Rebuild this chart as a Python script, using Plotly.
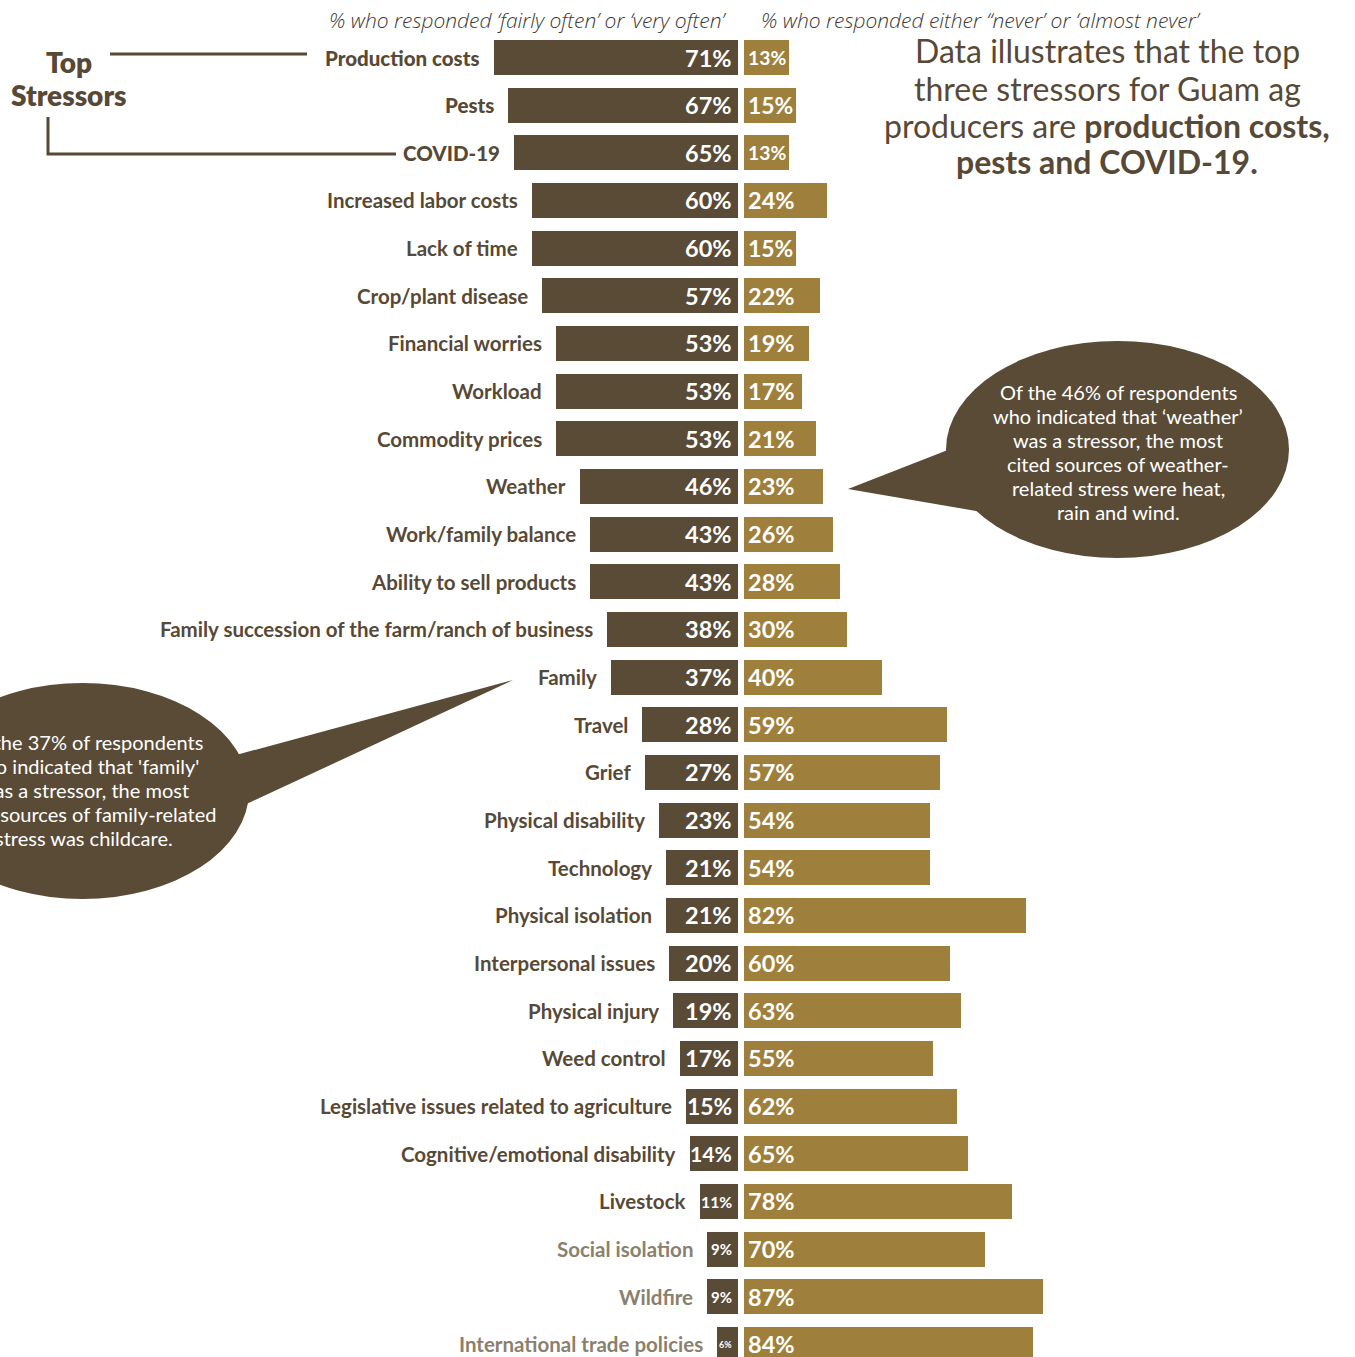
import plotly.graph_objects as go

# Stressors, ordered from most to least frequently reported
categories = [
    "Production costs", "Pests", "COVID-19", "Increased labor costs",
    "Lack of time", "Crop/plant disease", "Financial worries", "Workload",
    "Commodity prices", "Weather", "Work/family balance",
    "Ability to sell products",
    "Family succession of the farm/ranch of business", "Family", "Travel",
    "Grief", "Physical disability", "Technology", "Physical isolation",
    "Interpersonal issues", "Physical injury", "Weed control",
    "Legislative issues related to agriculture",
    "Cognitive/emotional disability", "Livestock", "Social isolation",
    "Wildfire", "International trade policies",
]
# % who responded 'fairly often' or 'very often'
often_pct = [71, 67, 65, 60, 60, 57, 53, 53, 53, 46, 43, 43, 38, 37, 28, 27,
             23, 21, 21, 20, 19, 17, 15, 14, 11, 9, 9, 6]
# % who responded 'never' or 'almost never'
never_pct = [13, 15, 13, 24, 15, 22, 19, 17, 21, 23, 26, 28, 30, 40, 59, 57,
             54, 54, 82, 60, 63, 55, 62, 65, 78, 70, 87, 84]
top_three = categories[:3]
muted_labels = ["Social isolation", "Wildfire", "International trade policies"]

weather_note = [
    "Of the 46% of respondents", "who indicated that ‘weather’",
    "was a stressor, the most", "cited sources of weather-",
    "related stress were heat,", "rain and wind.",
]
family_note = [
    "Of the 37% of respondents", "who indicated that 'family'",
    "was a stressor, the most", "cited sources of family-related",
    "stress was childcare.",
]
headline = [
    "Data illustrates that the top",
    "three stressors for Guam ag",
    "producers are <b>production costs,</b>",
    "<b>pests and COVID-19.</b>",
]

# ---- styling -------------------------------------------------------------
W, H = 1355, 1357
DARK = "#5a4b36"
GOLD = "#9e803c"
INK = "#574936"
MUTED = "#8b7f6d"
FONT = "Lato"

PX_PER_PCT = 3.44          # horizontal scale (pixels per percentage point)
CENTER_PX = 741            # pixel column between the two bar groups
HALF_GAP = 3 / PX_PER_PCT  # half of the gap between the two bar groups
ROW0_PX = 57.5             # centre of the first row
ROW_PX = 47.66             # row pitch
BAR_PX = 35                # bar thickness

x_range = [-CENTER_PX / PX_PER_PCT, (W - CENTER_PX) / PX_PER_PCT]
y_range = [(H - ROW0_PX) / ROW_PX, -ROW0_PX / ROW_PX]
rows = list(range(len(categories)))


def px(x):
    return x / W


def py(y):
    return 1 - y / H


def value_font_size(v):
    """Shrink the in-bar label so it fills, but fits inside, short bars."""
    bar_px = v * PX_PER_PCT
    em_width = 0.35 * len(str(v)) + 1.25
    return max(9, min(23.5, (bar_px - 7) / em_width))


fig = go.Figure()
fig.add_trace(go.Bar(
    y=rows, x=[-v for v in often_pct], base=-HALF_GAP, orientation="h",
    marker=dict(color=DARK, line=dict(width=0)), width=BAR_PX / ROW_PX,
    hoverinfo="skip", showlegend=False,
))
fig.add_trace(go.Bar(
    y=rows, x=never_pct, base=HALF_GAP, orientation="h",
    marker=dict(color=GOLD, line=dict(width=0)), width=BAR_PX / ROW_PX,
    hoverinfo="skip", showlegend=False,
))

annotations = []
for i, (cat, lo, hi) in enumerate(zip(categories, often_pct, never_pct)):
    color = MUTED if cat in muted_labels else INK
    weight = 900 if cat in top_three else 700
    annotations.append(dict(
        x=-HALF_GAP - lo, y=i, xref="x", yref="y", text=cat,
        xanchor="right", yanchor="middle", xshift=-12, showarrow=False,
        font=dict(family=FONT, size=20.5, color=color, weight=weight),
    ))
    annotations.append(dict(
        x=-HALF_GAP, y=i, xref="x", yref="y", text=f"{lo}%",
        xanchor="right", yanchor="middle", xshift=-4, showarrow=False,
        font=dict(family=FONT, size=value_font_size(lo), color="white",
                  weight=700),
    ))
    annotations.append(dict(
        x=HALF_GAP, y=i, xref="x", yref="y", text=f"{hi}%",
        xanchor="left", yanchor="middle", xshift=2, showarrow=False,
        font=dict(family=FONT, size=value_font_size(hi), color="white",
                  weight=700),
    ))

# column headers
header_font = dict(family="Open Sans", size=21, color="#3a3834",
                   style="italic", weight=300)
annotations.append(dict(
    x=px(728), y=py(20), xref="paper", yref="paper",
    text="% who responded ‘fairly often’ or ‘very often’",
    xanchor="right", yanchor="middle", showarrow=False, font=header_font,
))
annotations.append(dict(
    x=px(759), y=py(20), xref="paper", yref="paper",
    text="% who responded either “never’ or ‘almost never’",
    xanchor="left", yanchor="middle", showarrow=False, font=header_font,
))

# "Top Stressors" call-out
for text, y in [("Top", 62), ("Stressors", 95)]:
    annotations.append(dict(
        x=px(69), y=py(y), xref="paper", yref="paper", text=text,
        xanchor="center", yanchor="middle", showarrow=False,
        font=dict(family=FONT, size=28, color=INK, weight=800),
    ))

# headline statement, one annotation per line
for k, text in enumerate(headline):
    annotations.append(dict(
        x=px(1107), y=py(51 + 37 * k), xref="paper", yref="paper", text=text,
        xanchor="center", yanchor="middle", showarrow=False,
        font=dict(family=FONT, size=32, color=INK, weight=400),
    ))

# speech-bubble notes
bubble_font = dict(family=FONT, size=20, color="white", weight=400)
for k, text in enumerate(weather_note):
    annotations.append(dict(
        x=px(1118), y=py(392 + 24 * k), xref="paper", yref="paper",
        text=text, xanchor="center", yanchor="middle", showarrow=False,
        font=bubble_font,
    ))
for k, text in enumerate(family_note):
    annotations.append(dict(
        x=px(84), y=py(742 + 24 * k), xref="paper", yref="paper",
        text=text, xanchor="center", yanchor="middle", showarrow=False,
        font=bubble_font,
    ))


def path(points):
    return "M " + " L ".join(f"{px(x)} {py(y)}" for x, y in points) + " Z"


shapes = [
    # bracket lines for the top three stressors
    dict(type="line", xref="paper", yref="paper", x0=px(110), y0=py(54),
         x1=px(307), y1=py(54), line=dict(color=INK, width=3)),
    dict(type="path", xref="paper", yref="paper",
         path="M {} {} L {} {} L {} {}".format(px(48), py(117), px(48),
                                               py(154), px(396), py(154)),
         line=dict(color=INK, width=3)),
    # weather bubble
    dict(type="circle", xref="paper", yref="paper", x0=px(946), x1=px(1289),
         y0=py(558), y1=py(341), fillcolor=DARK, line=dict(width=0),
         layer="below"),
    dict(type="path", xref="paper", yref="paper",
         path=path([(958, 446), (848, 489), (982, 512)]),
         fillcolor=DARK, line=dict(width=0), layer="below"),
    # family bubble
    dict(type="circle", xref="paper", yref="paper", x0=px(-84), x1=px(249),
         y0=py(899), y1=py(683), fillcolor=DARK, line=dict(width=0),
         layer="below"),
    dict(type="path", xref="paper", yref="paper",
         path=path([(225, 758), (513, 680), (238, 808)]),
         fillcolor=DARK, line=dict(width=0), layer="below"),
]

fig.update_layout(
    width=W, height=H, autosize=False,
    margin=dict(l=0, r=0, t=0, b=0, pad=0),
    paper_bgcolor="white", plot_bgcolor="white",
    barmode="overlay", bargap=0,
    xaxis=dict(range=x_range, visible=False, fixedrange=True),
    yaxis=dict(range=y_range, visible=False, fixedrange=True),
    annotations=annotations, shapes=shapes,
    font=dict(family=FONT),
)

fig.write_html("out.html", config={"displayModeBar": False})
